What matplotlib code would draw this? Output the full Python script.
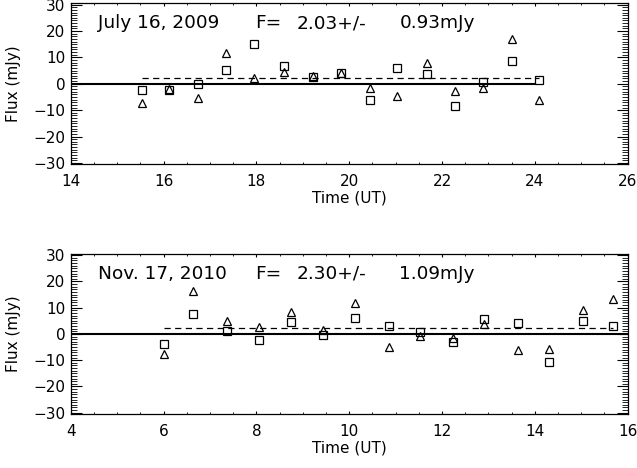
import matplotlib
matplotlib.use("Agg")
import matplotlib.pyplot as plt
from matplotlib.ticker import MultipleLocator

# July 16, 2009 observation
t1 = [15.53, 16.12, 16.74, 17.35, 17.94, 18.60, 19.21, 19.83,
      20.44, 21.04, 21.67, 22.27, 22.88, 23.50, 24.09]
sq1 = [-2.5, -2.5, 0.0, 5.2, 15.0, 6.7, 2.7, 4.0,
       -6.2, 5.9, 3.6, -8.4, 0.7, 8.7, 1.6]
tri1 = [-7.4, -1.9, -5.3, 11.8, 2.2, 4.5, 2.9, 4.0,
        -1.6, -4.7, 7.9, -2.7, -1.5, 16.9, -6.0]
mean1 = 2.03
err1 = 0.93

# Nov. 17, 2010 observation
t2 = [6.00, 6.64, 7.37, 8.05, 8.75, 9.44, 10.13, 10.85,
      11.53, 12.23, 12.91, 13.63, 14.30, 15.03, 15.68]
sq2 = [-3.7, 7.7, 1.2, -2.4, 4.7, -0.5, 5.9, 2.9,
       0.9, -3.1, 5.7, 4.2, -10.5, 5.0, 3.1]
tri2 = [-7.8, 16.4, 4.9, 2.5, 8.5, 1.7, 11.7, -4.8,
        -0.7, -1.4, 3.7, -6.0, -5.9, 9.2, 13.5]
mean2 = 2.30
err2 = 1.09

panels = [
    ("July 16, 2009", t1, sq1, tri1, mean1, err1, (14, 26), (14, 24)),
    ("Nov. 17, 2010", t2, sq2, tri2, mean2, err2, (4, 16), (4, 16)),
]

plt.rcParams['font.family'] = ['DejaVu Sans']

fig = plt.figure(figsize=(6.37, 4.68), dpi=100)
rects = [[0.111, 0.649, 0.8744, 0.344], [0.111, 0.1154, 0.8744, 0.342]]

for rect, (label, t, sq, tri, mean, err, xlim, zero_span) in zip(rects, panels):
    ax = fig.add_axes(rect)
    ax.plot(t, sq, 's', ms=5.5, mfc='none', mec='black', mew=0.9)
    ax.plot(t, tri, '^', ms=5.5, mfc='none', mec='black', mew=0.9)
    ax.plot(zero_span, [0, 0], '-', color='black', lw=1.5)
    ax.plot([t[0], t[-1]], [mean, mean], '--', color='black', lw=0.9,
            dashes=(5, 3.5))

    ax.set_xlim(xlim)
    ax.set_ylim(-30.5, 30.5)
    ax.xaxis.set_major_locator(MultipleLocator(2))
    ax.xaxis.set_minor_locator(MultipleLocator(0.5))
    ax.yaxis.set_major_locator(MultipleLocator(10))
    ax.yaxis.set_minor_locator(MultipleLocator(1))
    ax.tick_params(axis='x', which='major', direction='in', length=2.4,
                   top=True, labelsize=11, pad=7)
    ax.tick_params(axis='x', which='minor', direction='in', length=1.3, top=True)
    ax.tick_params(axis='y', which='major', direction='in', length=8,
                   right=True, labelsize=11, pad=4)
    ax.tick_params(axis='y', which='minor', direction='in', length=4, right=True)
    for s in ax.spines.values():
        s.set_linewidth(0.9)

    ax.set_xlabel("Time (UT)", fontsize=11, labelpad=1)
    ax.set_ylabel("Flux (mJy)", fontsize=11, labelpad=9)

    # header line, laid out in pieces like the IDL output
    pieces = [(0.049, label), (0.331, "F="), (0.406, f"{mean:.2f}+/-"),
              (0.590, f"{err:.2f}mJy")]
    for xf, s in pieces:
        ax.text(xf, 0.845, s, transform=ax.transAxes, fontsize=13.3,
                va='baseline', ha='left')

fig.savefig("out.png", dpi=100)
